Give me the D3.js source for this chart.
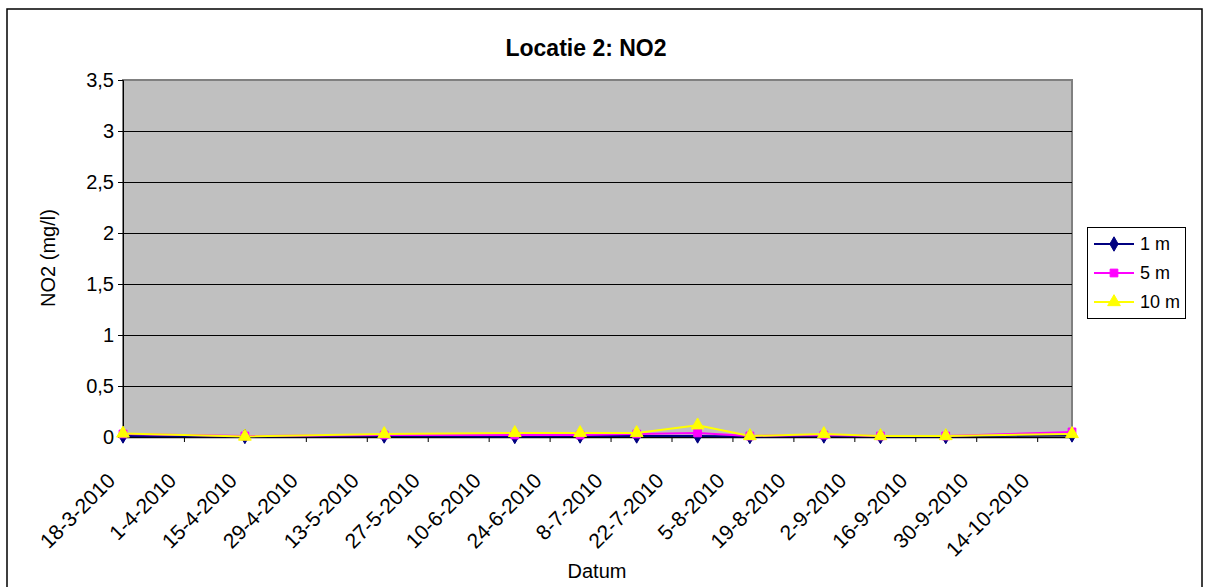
<!DOCTYPE html>
<html>
<head>
<meta charset="utf-8">
<script src="https://cdn.jsdelivr.net/npm/d3@7"></script>
<style>
  body { margin: 0; background: #fff; }
  svg { font-family: "Liberation Sans", Arial, sans-serif; }
</style>
</head>
<body>
<svg id="chart" width="1205" height="587"></svg>
<script>
// meetdata, Locatie 2
const datums = ["18-3-2010", "15-4-2010", "17-5-2010", "16-6-2010", "1-7-2010", "14-7-2010",
                "28-7-2010", "9-8-2010", "26-8-2010", "8-9-2010", "23-9-2010", "22-10-2010"];
const no2_1m  = [0.01, 0.005, 0.01, 0.005, 0.01, 0.01, 0.01, 0.005, 0.01, 0.005, 0.005, 0.02];
const no2_5m  = [0.03, 0.01, 0.02, 0.02, 0.02, 0.03, 0.04, 0.01, 0.02, 0.01, 0.01, 0.05];
const no2_10m = [0.035, 0.005, 0.03, 0.04, 0.04, 0.04, 0.115, 0.01, 0.03, 0.01, 0.01, 0.03];
const xTicks = ["18-3-2010", "1-4-2010", "15-4-2010", "29-4-2010", "13-5-2010", "27-5-2010",
                "10-6-2010", "24-6-2010", "8-7-2010", "22-7-2010", "5-8-2010", "19-8-2010",
                "2-9-2010", "16-9-2010", "30-9-2010", "14-10-2010"];
const yTicks = [0, 0.5, 1, 1.5, 2, 2.5, 3, 3.5];
const seriesNames = ["1 m", "5 m", "10 m"];

const parseDatum = d3.utcParse("%d-%m-%Y");
const fmtDatum = d3.utcFormat("%-d-%-m-%Y");

const series = [
  { name: seriesNames[0], values: no2_1m,  color: "#000080", symbol: d3.symbolDiamond, size: 60 },
  { name: seriesNames[1], values: no2_5m,  color: "#FF00FF", symbol: d3.symbolSquare,  size: 60 },
  { name: seriesNames[2], values: no2_10m, color: "#FFFF00", symbol: d3.symbolTriangle, size: 70 }
];
series.forEach(s => {
  s.points = datums.map((d, i) => ({ date: parseDatum(d), value: s.values[i] }));
});

const svg = d3.select("#chart");

// buitenkader
svg.append("rect")
  .attr("x", 7).attr("y", 9).attr("width", 1195).attr("height", 590)
  .attr("fill", "#fff").attr("stroke", "#000").attr("stroke-width", 1.5);

const plot = { left: 123, right: 1072, top: 80, bottom: 437 };

const x = d3.scaleUtc()
  .domain([parseDatum(datums[0]), parseDatum(datums[datums.length - 1])])
  .range([plot.left, plot.right]);

const y = d3.scaleLinear()
  .domain([0, 3.5])
  .range([plot.bottom, plot.top]);

// grijs plotvlak
svg.append("rect")
  .attr("x", plot.left).attr("y", plot.top)
  .attr("width", plot.right - plot.left).attr("height", plot.bottom - plot.top)
  .attr("fill", "#C0C0C0").attr("stroke", "#808080").attr("stroke-width", 2);

// rasterlijnen
svg.append("g")
  .selectAll("line")
  .data(yTicks.filter(v => v > 0 && v < 3.5))
  .enter().append("line")
  .attr("x1", plot.left).attr("x2", plot.right)
  .attr("y1", d => Math.round(y(d)) + 0.5).attr("y2", d => Math.round(y(d)) + 0.5)
  .attr("stroke", "#000").attr("stroke-width", 1);

// y-as
const yAxis = svg.append("g")
  .attr("transform", `translate(${plot.left},0)`)
  .call(d3.axisLeft(y).tickValues(yTicks).tickSize(5).tickPadding(4)
    .tickFormat(d => String(d).replace(".", ",")));
yAxis.select(".domain").attr("stroke", "#000");
yAxis.selectAll("text").style("font-size", "20px").attr("fill", "#000");

// x-as
const xAxis = svg.append("g")
  .attr("transform", `translate(0,${plot.bottom})`)
  .call(d3.axisBottom(x).tickValues(xTicks.map(parseDatum)).tickSize(5).tickSizeOuter(0)
    .tickFormat(fmtDatum));
xAxis.select(".domain").attr("stroke", "#000").attr("stroke-width", 1.5);
xAxis.selectAll("text")
  .style("font-size", "21px")
  .attr("fill", "#000")
  .attr("text-anchor", "end")
  .attr("dy", 0)
  .attr("y", 0)
  .attr("transform", "translate(-7,45) rotate(-45)");

// lijnen + markers
const line = d3.line().x(d => x(d.date)).y(d => y(d.value));

series.forEach(s => {
  svg.append("path")
    .datum(s.points)
    .attr("d", line)
    .attr("fill", "none")
    .attr("stroke", s.color)
    .attr("stroke-width", 2);
});
series.forEach(s => {
  svg.append("g")
    .selectAll("path")
    .data(s.points)
    .enter().append("path")
    .attr("d", d3.symbol(s.symbol, s.size))
    .attr("transform", d => `translate(${x(d.date)},${y(d.value)})`)
    .attr("fill", s.color)
    .attr("stroke", s.color)
    .attr("stroke-width", 1);
});

// titels
svg.append("text")
  .attr("x", 586).attr("y", 56)
  .attr("text-anchor", "middle")
  .style("font-size", "23px").style("font-weight", "bold")
  .text("Locatie 2: NO2");

svg.append("text")
  .attr("transform", `translate(55,258) rotate(-90)`)
  .attr("text-anchor", "middle")
  .style("font-size", "20px")
  .text("NO2 (mg/l)");

svg.append("text")
  .attr("x", 597).attr("y", 578)
  .attr("text-anchor", "middle")
  .style("font-size", "20px")
  .text("Datum");

// legenda
const legend = svg.append("g");
legend.append("rect")
  .attr("x", 1087.5).attr("y", 227.5).attr("width", 98).attr("height", 91)
  .attr("fill", "#fff").attr("stroke", "#000").attr("stroke-width", 1);

series.forEach((s, i) => {
  const ly = 244 + i * 29;
  legend.append("line")
    .attr("x1", 1094).attr("x2", 1134).attr("y1", ly).attr("y2", ly)
    .attr("stroke", s.color).attr("stroke-width", 2);
  legend.append("path")
    .attr("d", d3.symbol(s.symbol, s.size))
    .attr("transform", `translate(1114,${ly})`)
    .attr("fill", s.color).attr("stroke", s.color);
  legend.append("text")
    .attr("x", 1140).attr("y", ly)
    .attr("dy", "0.35em")
    .style("font-size", "18px")
    .text(s.name);
});
</script>
</body>
</html>
